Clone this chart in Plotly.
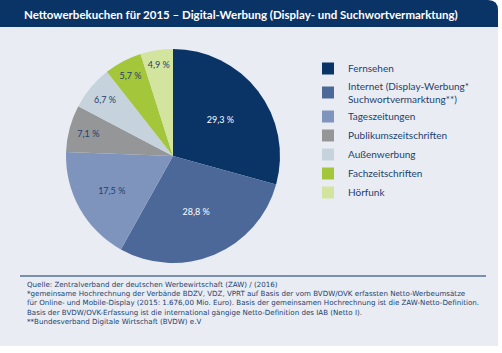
import plotly.graph_objects as go

categories = ["Fernsehen", "Internet (Display-Werbung*<br>Suchwortvermarktung**)", "Tageszeitungen",
              "Publikumszeitschriften", "Außenwerbung", "Fachzeitschriften", "Hörfunk"]
values = [29.3, 28.8, 17.5, 7.1, 6.7, 5.7, 4.9]
colors = ["#0b3466", "#4b6898", "#7f94bd", "#959698", "#c7d3dc", "#a3c63a", "#d3e49e"]
text_colors = ["#ffffff", "#ffffff", "#1d3f6e", "#1d3f6e", "#1d3f6e", "#1d3f6e", "#1d3f6e"]
title = "Nettowerbekuchen für 2015 – Digital-Werbung (Display- und Suchwortvermarktung)"
footer = [
    "Quelle: Zentralverband der deutschen Werbewirtschaft (ZAW) / (2016)",
    "*gemeinsame Hochrechnung der Verbände BDZV, VDZ, VPRT auf Basis der vom BVDW/OVK erfassten Netto-Werbeumsätze",
    "für Online- und Mobile-Display (2015: 1.676,00 Mio. Euro). Basis der gemeinsamen Hochrechnung ist die ZAW-Netto-Definition.",
    "Basis der BVDW/OVK-Erfassung ist die international gängige Netto-Definition des IAB (Netto I).",
    "**Bundesverband Digitale Wirtschaft (BVDW) e.V",
]

W, H = 502, 353
def px(x): return x / W
def py(y): return 1 - y / H

labels_txt = [f"{v:.1f}".replace(".", ",") + " %" for v in values]

fig = go.Figure(go.Pie(
    labels=categories, values=values, text=labels_txt,
    texttemplate="%{text}", textposition="inside", insidetextorientation="horizontal",
    textfont=dict(color=text_colors, size=9, family="Lato"),
    marker=dict(colors=colors, line=dict(width=0)),
    sort=False, direction="clockwise", rotation=0,
    domain=dict(x=[px(66), px(280)], y=[py(263), py(49)]),
    hoverinfo="label+percent",
))

shapes = []
# background panel
shapes.append(dict(type="rect", xref="paper", yref="paper", x0=0, x1=px(498), y0=py(346), y1=py(26),
                   fillcolor="#e9edf3", line=dict(width=0), layer="below"))
# title bar with rounded top-right corner
r = 10
x1 = 498
path = (f"M 0 {py(27)} L 0 {py(0)} L {px(x1 - r)} {py(0)} Q {px(x1)} {py(0)} {px(x1)} {py(r)} "
        f"L {px(x1)} {py(27)} Z")
shapes.append(dict(type="path", xref="paper", yref="paper", path=path,
                   fillcolor="#0b3466", line=dict(width=0), layer="below"))
# footer rule
shapes.append(dict(type="line", xref="paper", yref="paper", x0=px(20), x1=px(486), y0=py(276), y1=py(276),
                   line=dict(color="#0b3466", width=1)))

annotations = [
    dict(text=f"<b>{title}</b>", xref="paper", yref="paper", x=px(22), y=py(14),
         xanchor="left", yanchor="middle", showarrow=False,
         font=dict(color="white", size=11.5, family="Lato")),
    dict(text="<br>".join(footer), xref="paper", yref="paper", x=px(25), y=py(278),
         xanchor="left", yanchor="top", align="left", showarrow=False,
         font=dict(color="#1d3f6e", size=7.1, family="DejaVu Sans")),
]

fig.update_layout(
    width=W, height=H, margin=dict(l=0, r=0, t=0, b=0),
    paper_bgcolor="white", plot_bgcolor="white",
    shapes=shapes, annotations=annotations,
    showlegend=True,
    legend=dict(x=px(308), y=py(54), xanchor="left", yanchor="top",
                font=dict(size=10, color="#1d3f6e", family="Lato"),
                bgcolor="rgba(0,0,0,0)", traceorder="normal", itemwidth=30),
    uniformtext=dict(minsize=8, mode="show"),
)

fig.write_html("out.html")
